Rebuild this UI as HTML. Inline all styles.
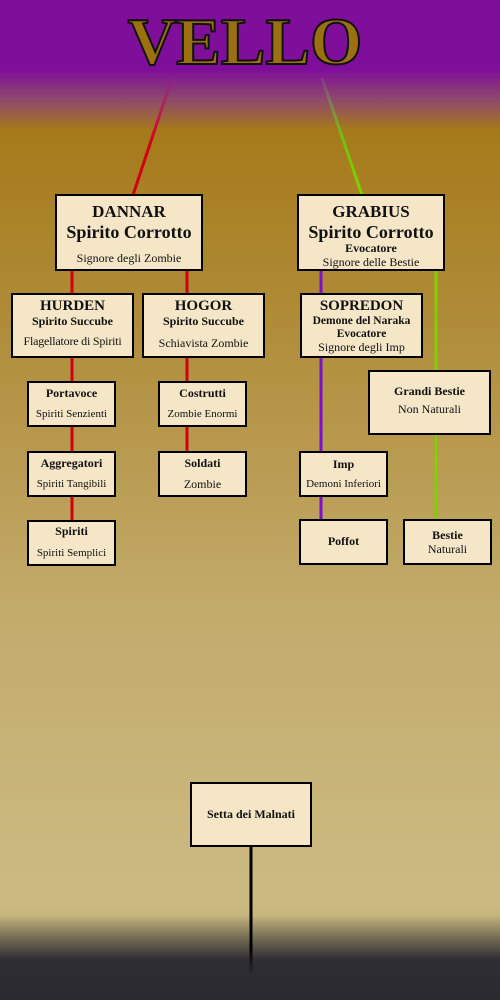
<!DOCTYPE html>
<html><head><meta charset="utf-8"><style>
*{margin:0;padding:0;box-sizing:border-box}
body{width:500px;height:1000px;overflow:hidden;position:relative;font-family:"Liberation Serif",serif;
background:linear-gradient(to bottom,#7f0f9b 0px,#7f0f9b 70px,#8e4a6a 100px,#a67a1a 130px,#b08d3a 330px,#c2aa6a 600px,#cbbb82 900px,#c6b67e 915px,#6e6650 940px,#2e2d33 960px,#2a2a30 1000px)}
.b{position:absolute;background:#f5e6c8;border:2px solid #000;text-align:center;color:#111;line-height:1.15}
.t{font-weight:bold}
svg{position:absolute;left:0;top:0}
.vello{position:absolute;left:125px;top:9px;width:240px;text-align:center;font-weight:bold;font-size:67px;color:#9a7010;-webkit-text-stroke:2px #111;line-height:1}
</style></head><body>
<div class="vello">VELLO</div>
<svg width="500" height="1000">
<defs>
<linearGradient id="gr" x1="0" y1="78" x2="0" y2="194" gradientUnits="userSpaceOnUse"><stop offset="0" stop-color="#a01080" stop-opacity="0.2"/><stop offset="0.4" stop-color="#c81040"/><stop offset="0.6" stop-color="#d00010"/></linearGradient>
<linearGradient id="gg" x1="0" y1="78" x2="0" y2="194" gradientUnits="userSpaceOnUse"><stop offset="0" stop-color="#709070" stop-opacity="0.2"/><stop offset="0.5" stop-color="#70c010"/><stop offset="1" stop-color="#80d000"/></linearGradient>
<linearGradient id="gb" x1="0" y1="846" x2="0" y2="975" gradientUnits="userSpaceOnUse"><stop offset="0.8" stop-color="#000"/><stop offset="1" stop-color="#000" stop-opacity="0"/></linearGradient>
</defs>
<line x1="172" y1="78" x2="133" y2="195" stroke="url(#gr)" stroke-width="3"/>
<line x1="322" y1="78" x2="362" y2="195" stroke="url(#gg)" stroke-width="3"/>
<line x1="72" y1="270" x2="72" y2="522" stroke="#d00010" stroke-width="3"/>
<line x1="187" y1="270" x2="187" y2="453" stroke="#d00010" stroke-width="3"/>
<line x1="321" y1="270" x2="321" y2="521" stroke="#7a10d0" stroke-width="3"/>
<line x1="436" y1="270" x2="436" y2="521" stroke="#80d000" stroke-width="3"/>
<line x1="251" y1="846" x2="251" y2="975" stroke="url(#gb)" stroke-width="3"/>
</svg>

<div class="b" style="left:55px;top:194px;width:148px;height:77px;padding-top:6px"><div class="t" style="font-size:17px">DANNAR</div><div class="t" style="font-size:18px">Spirito Corrotto</div><div style="font-size:12px;margin-top:10px">Signore degli Zombie</div></div>
<div class="b" style="left:297px;top:194px;width:148px;height:77px;padding-top:6px"><div class="t" style="font-size:17px">GRABIUS</div><div class="t" style="font-size:18px">Spirito Corrotto</div><div class="t" style="font-size:12px">Evocatore</div><div style="font-size:12px">Signore delle Bestie</div></div>

<div class="b" style="left:11px;top:293px;width:123px;height:65px;padding-top:3px"><div class="t" style="font-size:15px">HURDEN</div><div class="t" style="font-size:12px">Spirito Succube</div><div style="font-size:12px;margin-top:6px;white-space:nowrap;letter-spacing:-0.2px">Flagellatore di Spiriti</div></div>
<div class="b" style="left:142px;top:293px;width:123px;height:65px;padding-top:3px"><div class="t" style="font-size:15px">HOGOR</div><div class="t" style="font-size:12px">Spirito Succube</div><div style="font-size:12px;margin-top:8px">Schiavista Zombie</div></div>
<div class="b" style="left:300px;top:293px;width:123px;height:65px;padding-top:3px"><div class="t" style="font-size:15px">SOPREDON</div><div class="t" style="font-size:11.5px;line-height:1.1;white-space:nowrap">Demone del Naraka</div><div class="t" style="font-size:11.5px;line-height:1.1">Evocatore</div><div style="font-size:12px">Signore degli Imp</div></div>

<div class="b" style="left:27px;top:381px;width:89px;height:46px;padding-top:4px"><div class="t" style="font-size:12px">Portavoce</div><div style="font-size:11px;margin-top:7px">Spiriti Senzienti</div></div>
<div class="b" style="left:158px;top:381px;width:89px;height:46px;padding-top:4px"><div class="t" style="font-size:12px">Costrutti</div><div style="font-size:11px;margin-top:7px">Zombie Enormi</div></div>
<div class="b" style="left:368px;top:370px;width:123px;height:65px;padding-top:13px"><div class="t" style="font-size:12px">Grandi Bestie</div><div style="font-size:12px;margin-top:4px">Non Naturali</div></div>

<div class="b" style="left:27px;top:451px;width:89px;height:46px;padding-top:4px"><div class="t" style="font-size:12px">Aggregatori</div><div style="font-size:11px;margin-top:7px">Spiriti Tangibili</div></div>
<div class="b" style="left:158px;top:451px;width:89px;height:46px;padding-top:4px"><div class="t" style="font-size:12px">Soldati</div><div style="font-size:12px;margin-top:7px">Zombie</div></div>
<div class="b" style="left:299px;top:451px;width:89px;height:46px;padding-top:5px"><div class="t" style="font-size:12px">Imp</div><div style="font-size:11px;margin-top:6px">Demoni Inferiori</div></div>

<div class="b" style="left:27px;top:520px;width:89px;height:46px;padding-top:3px"><div class="t" style="font-size:12px">Spiriti</div><div style="font-size:11px;margin-top:8px">Spiriti Semplici</div></div>
<div class="b" style="left:299px;top:519px;width:89px;height:46px;padding-top:14px"><div class="t" style="font-size:12px">Poffot</div></div>
<div class="b" style="left:403px;top:519px;width:89px;height:46px;padding-top:8px"><div class="t" style="font-size:12px">Bestie</div><div style="font-size:12px">Naturali</div></div>

<div class="b" style="left:190px;top:782px;width:122px;height:65px;padding-top:24px"><div class="t" style="font-size:12px">Setta dei Malnati</div></div>
</body></html>
